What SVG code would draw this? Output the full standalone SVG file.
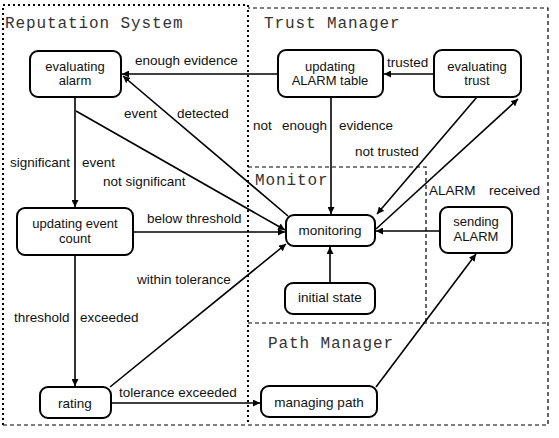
<svg xmlns="http://www.w3.org/2000/svg" width="559" height="438" viewBox="0 0 559 438">
<style>
.node rect{fill:#fff;stroke:#000;stroke-width:2}
.node text,.lbl{font-family:"Liberation Sans",Arial,sans-serif;font-size:13.5px;fill:#111}
.node text{text-anchor:middle}
.node text.m{font-size:13px}
.title{font-family:"Liberation Mono","Courier New",monospace;font-size:16px;letter-spacing:0.9px;fill:#333}
.c{stroke:#000;stroke-width:1.6;fill:none;marker-end:url(#ah)}
.dot{stroke:#000;fill:none;stroke-width:2;stroke-dasharray:2 3}
.dash{stroke:#000;fill:none;stroke-width:1.2;stroke-dasharray:4 3}
</style>
<defs>
<marker id="ah" viewBox="0 0 10 10" refX="10" refY="5" markerWidth="7" markerHeight="7" markerUnits="userSpaceOnUse" orient="auto">
<path d="M0,0 L10,5 L0,10 z" fill="#000"/>
</marker>
</defs>
<rect width="559" height="438" fill="#fff"/>
<g id="regions">
<path class="dot" d="M3,425 V5 H248 V425"/>
<path class="dash" d="M3,425 H548 V8 H248"/>
<path class="dash" d="M248,167 H426 V323"/>
<path class="dash" d="M248,323 H548"/>
<text class="title" x="5" y="28">Reputation System</text>
<text class="title" x="264" y="28">Trust Manager</text>
<text class="title" x="255" y="185">Monitor</text>
<text class="title" x="268" y="348">Path Manager</text>
</g>
<g id="connectors">
<path class="c" d="M278,74 H122"/>
<path class="c" d="M434,74 H384"/>
<path class="c" d="M331,97 V214"/>
<path class="c" d="M75,97 V207"/>
<path class="c" d="M76,111 L285,230"/>
<path class="c" d="M288,216 L123,76"/>
<path class="c" d="M133,232 H285"/>
<path class="c" d="M110,387 L286,244"/>
<path class="c" d="M75,255 V386"/>
<path class="c" d="M111,403 H260"/>
<path class="c" d="M376,387 L476,254"/>
<path class="c" d="M440,231 H376"/>
<path class="c" d="M477,97 L377,214"/>
<path class="c" d="M376,229 L518,99"/>
<path class="c" d="M330,283 V247"/>
<text class="lbl" x="135" y="65">enough evidence</text>
<text class="lbl" x="387" y="67">trusted</text>
<text class="lbl" x="124" y="118">event</text>
<text class="lbl" x="177" y="118">detected</text>
<text class="lbl" x="253" y="130">not</text>
<text class="lbl" x="282" y="130">enough</text>
<text class="lbl" x="339" y="130">evidence</text>
<text class="lbl" x="355" y="156">not trusted</text>
<text class="lbl" x="10" y="167">significant</text>
<text class="lbl" x="82" y="167">event</text>
<text class="lbl" x="103" y="186">not significant</text>
<text class="lbl" x="147" y="223">below threshold</text>
<text class="lbl" x="429" y="195">ALARM</text>
<text class="lbl" x="489" y="195">received</text>
<text class="lbl" x="137" y="284">within tolerance</text>
<text class="lbl" x="14" y="322">threshold</text>
<text class="lbl" x="80" y="322">exceeded</text>
<text class="lbl" x="119" y="397">tolerance exceeded</text>
</g>
<g id="evaluating-alarm" class="node"><rect x="30" y="51" width="91" height="46" rx="8"/><text class="m" x="75" y="71">evaluating</text><text class="m" x="75" y="85">alarm</text></g>
<g id="updating-alarm-table" class="node"><rect x="278" y="50" width="105" height="47" rx="8"/><text class="m" x="330" y="71">updating</text><text class="m" x="330" y="85">ALARM table</text></g>
<g id="evaluating-trust" class="node"><rect x="434" y="50" width="87" height="47" rx="8"/><text class="m" x="477" y="71">evaluating</text><text class="m" x="477" y="85">trust</text></g>
<g id="updating-event-count" class="node"><rect x="17" y="208" width="116" height="47" rx="8"/><text class="m" x="75" y="228">updating event</text><text class="m" x="75" y="243">count</text></g>
<g id="monitoring" class="node"><rect x="286" y="215" width="89" height="31" rx="8"/><text x="330" y="235">monitoring</text></g>
<g id="sending-alarm" class="node"><rect x="440" y="207" width="72" height="46" rx="8"/><text class="m" x="476" y="226">sending</text><text class="m" x="476" y="241">ALARM</text></g>
<g id="initial-state" class="node"><rect x="285" y="283" width="90" height="31" rx="8"/><text x="330" y="302">initial state</text></g>
<g id="rating" class="node"><rect x="40" y="387" width="71" height="31" rx="8"/><text x="75" y="408">rating</text></g>
<g id="managing-path" class="node"><rect x="261" y="386" width="116" height="31" rx="8"/><text x="319" y="407">managing path</text></g>
</svg>
